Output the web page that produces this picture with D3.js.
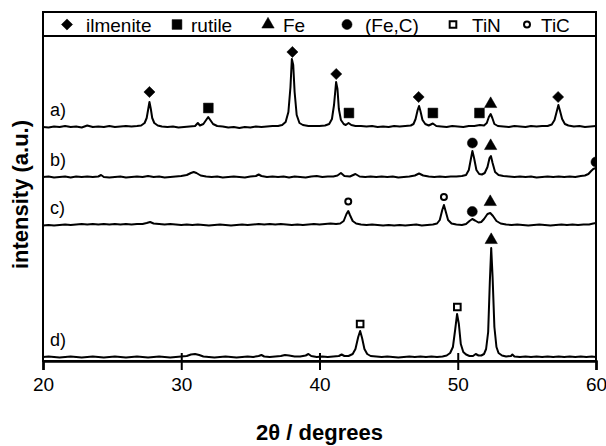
<!DOCTYPE html>
<html>
<head>
<meta charset="utf-8">
<script src="https://cdn.jsdelivr.net/npm/d3@7"></script>
<style>
  body { margin: 0; background: #fff; }
  svg { display: block; font-family: "Liberation Sans", Arial, sans-serif; }
</style>
</head>
<body>
<svg class="chart"></svg>
<script>
// XRD patterns a) - d), 2theta vs intensity (a.u.)
const width = 606
const height = 446
const margin = ({top: 12, right: 8, bottom: 85, left: 43})

// tick labels on the x axis
const xTicks = [20, 30, 40, 50, 60]

// phases in the legend
const phases = ['ilmenite', 'rutile', 'Fe', '(Fe,C)', 'TiN', 'TiC']

// vertical offset of each pattern (a.u.)
const traceNames = ['a)', 'b)', 'c)', 'd)']
const traceOffsets = [234, 184, 136, 4]

// patterns: [2theta, intensity above own baseline]
const traceA = [
  [20.0, 0], [20.4, -0.5], [20.8, 0.5], [21.2, 0], [21.6, 1], [22.0, 0], [22.4, 0.5], [22.8, -0.5],
  [23.2, 1.5], [23.6, 0], [24.0, 0.5], [24.4, 0], [24.8, 1], [25.2, 0], [25.6, 0.5], [26.0, 1],
  [26.4, 0.5], [26.8, 1], [27.1, 1.5], [27.35, 4], [27.5, 9], [27.6, 17], [27.7, 25], [27.8, 18],
  [27.9, 9], [28.05, 4], [28.3, 1.5], [28.6, 0.5], [29.0, 0], [29.4, 0.5], [29.8, -0.5], [30.2, 0],
  [30.6, 0.5], [31.0, 1], [31.2, 4], [31.35, 1.5], [31.6, 3], [31.8, 7], [31.95, 10], [32.1, 7],
  [32.3, 3], [32.6, 1], [33.0, 0.5], [33.4, -0.5], [33.8, 0], [34.2, -1], [34.6, 0], [35.0, -0.5],
  [35.4, 0.5], [35.8, 0], [36.2, 0.5], [36.6, 1], [37.0, 1], [37.3, 2], [37.55, 5], [37.75, 15],
  [37.9, 40], [38.0, 68], [38.1, 62], [38.2, 35], [38.35, 12], [38.55, 4], [38.8, 2], [39.2, 1],
  [39.6, 1], [40.0, 1], [40.4, 1.5], [40.7, 3], [40.9, 8], [41.05, 22], [41.2, 45], [41.3, 38],
  [41.4, 18], [41.55, 7], [41.75, 3], [41.9, 2], [42.1, 4], [42.3, 2], [42.6, 1], [43.0, 1],
  [43.4, 0.5], [43.8, 1], [44.2, 0], [44.6, 0.5], [45.0, 0], [45.4, 1], [45.8, 0.5], [46.2, 1],
  [46.6, 1.5], [46.8, 3], [46.95, 8], [47.1, 17], [47.2, 21], [47.3, 16], [47.45, 7], [47.65, 3],
  [47.9, 1.5], [48.2, 3.5], [48.45, 1], [48.8, 0.5], [49.2, 0], [49.6, 1], [50.0, 0.5], [50.4, 0],
  [50.8, 1], [51.2, 1], [51.6, 2], [51.9, 1.5], [52.1, 4], [52.25, 10], [52.38, 13], [52.5, 9],
  [52.65, 3], [52.9, 1], [53.3, 0.5], [53.7, 0], [54.1, 1], [54.5, 0.5], [54.9, 0], [55.3, 1],
  [55.7, 0.5], [56.1, 1], [56.5, 1], [56.8, 2.5], [57.0, 7], [57.15, 15], [57.28, 22], [57.4, 16],
  [57.55, 8], [57.75, 3], [58.0, 1.5], [58.4, 0.5], [58.8, 1], [59.2, 0], [59.6, 0.5], [60.0, 1]
]
const traceB = [
  [20.0, 0], [20.4, 0.5], [20.8, -0.5], [21.2, 0], [21.6, 0.5], [22.0, -0.5], [22.4, 0.5], [22.8, 0],
  [23.2, 0.5], [23.6, 0], [24.0, 0.5], [24.2, 2], [24.4, 0], [24.8, -0.5], [25.2, 0], [25.6, 0.5],
  [26.0, -0.5], [26.4, 0], [26.8, 0.5], [27.2, 0], [27.6, 1], [28.0, 0], [28.4, 0.5], [28.8, -0.5],
  [29.2, 0], [29.6, 0.5], [30.0, 1], [30.4, 2], [30.7, 4], [30.9, 5], [31.1, 4], [31.4, 1.5],
  [31.8, 0.5], [32.2, 0], [32.6, 0.5], [33.0, -0.5], [33.4, 0], [33.8, 0.5], [34.2, 0], [34.6, -0.5],
  [35.0, 0.5], [35.4, 1], [35.6, 2.5], [35.8, 1], [36.2, 0], [36.6, 0.5], [37.0, 0], [37.4, 0.5],
  [37.8, -0.5], [38.2, 0.5], [38.6, 0], [39.0, -0.5], [39.4, 0.5], [39.8, 1], [40.2, 0], [40.6, 0.5],
  [41.0, 0.5], [41.3, 1.5], [41.55, 4], [41.8, 1], [42.2, 0.5], [42.6, 3], [42.9, 0.5], [43.3, 0],
  [43.7, 0.5], [44.1, 0], [44.5, 0.5], [44.9, 0], [45.3, 0.5], [45.7, -0.5], [46.1, 0], [46.5, 0.5],
  [46.9, 1.5], [47.2, 3.5], [47.5, 1.5], [47.9, 0.5], [48.3, 0], [48.7, 0.5], [49.1, 0], [49.5, 0.5],
  [49.9, 0.5], [50.3, 1], [50.6, 2], [50.8, 7], [50.95, 18], [51.06, 26], [51.18, 19], [51.35, 7],
  [51.55, 3], [51.75, 2.5], [51.95, 4], [52.15, 10], [52.3, 19], [52.4, 21], [52.52, 14], [52.7, 5],
  [52.95, 2], [53.3, 1], [53.7, 0.5], [54.1, 0], [54.5, 0.5], [54.9, 0], [55.3, 0.5], [55.7, -0.5],
  [56.1, 0], [56.5, 0.5], [56.9, 0], [57.3, 0.5], [57.7, 0], [58.1, 0.5], [58.5, 0], [58.9, 1],
  [59.2, 1.5], [59.45, 3], [59.65, 6], [59.8, 8], [60.0, 9]
]
const traceC = [
  [20.0, -0.5], [20.4, 0], [20.8, -0.5], [21.2, 0], [21.6, 0.5], [22.0, 0], [22.4, 0.5], [22.8, 1],
  [23.2, 0.5], [23.6, 1], [24.0, 0.5], [24.4, 1], [24.8, 0.5], [25.2, 1], [25.6, 0.5], [26.0, 1],
  [26.4, 0.5], [26.8, 1], [27.2, 1], [27.5, 2], [27.75, 3], [28.0, 1.5], [28.4, 1], [28.8, 0.5],
  [29.2, 1], [29.6, 0.5], [30.0, 0], [30.4, 0.5], [30.8, 0], [31.2, 0.5], [31.6, 0], [32.0, -0.5],
  [32.4, 0], [32.8, 0.5], [33.2, 0], [33.6, -0.5], [34.0, 0], [34.4, 0.5], [34.8, 0], [35.2, 0.5],
  [35.6, 1], [36.0, 0.5], [36.4, 1], [36.8, 0.5], [37.2, 1], [37.6, 0.5], [38.0, 0], [38.4, 0.5],
  [38.8, 0], [39.2, 0.5], [39.6, 1], [40.0, 0.5], [40.4, 1], [40.8, 1.5], [41.2, 1], [41.5, 1.5],
  [41.75, 4], [41.95, 11], [42.08, 14], [42.2, 10], [42.4, 4], [42.65, 1.5], [43.0, 0.5], [43.4, 0],
  [43.8, 0.5], [44.2, 0], [44.6, -0.5], [45.0, 0], [45.4, -0.5], [45.8, 0], [46.2, -0.5], [46.6, 0],
  [47.0, 0.5], [47.4, -0.5], [47.8, 0], [48.2, 0.5], [48.5, 1.5], [48.7, 5], [48.88, 15], [49.0, 20],
  [49.12, 14], [49.3, 5], [49.55, 1.5], [49.9, 0.5], [50.3, 0], [50.6, 1], [50.85, 4], [51.05, 6],
  [51.25, 4.5], [51.5, 2.5], [51.7, 3], [51.9, 6], [52.15, 11], [52.35, 12], [52.55, 9], [52.8, 4],
  [53.1, 1.5], [53.5, 0.5], [53.9, 0], [54.3, 0.5], [54.7, 0], [55.1, -0.5], [55.5, 0], [55.9, 0.5],
  [56.3, 0], [56.7, -0.5], [57.1, 0], [57.5, 0.5], [57.9, 0], [58.3, 0.5], [58.7, 0], [59.1, 0.5],
  [59.5, 0.5], [59.8, 1.5], [60.0, 2]
]
const traceD = [
  [20.0, 0], [20.4, 0.5], [20.8, 0], [21.2, -0.5], [21.6, 0], [22.0, 0.5], [22.4, 0], [22.8, -0.5],
  [23.2, 0], [23.6, 0.5], [24.0, 0], [24.4, -0.5], [24.8, 0], [25.2, 0.5], [25.6, 0], [26.0, -0.5],
  [26.4, 0], [26.8, 0.5], [27.2, 0], [27.6, -0.5], [28.0, 0], [28.4, 0.5], [28.8, 0], [29.2, -0.5],
  [29.6, 0], [30.0, 0.5], [30.4, 1], [30.7, 2.5], [31.0, 3], [31.3, 2], [31.6, 0.5], [32.0, 0],
  [32.4, -0.5], [32.8, 0], [33.2, 0.5], [33.6, 0], [34.0, -0.5], [34.4, 0], [34.8, 0.5], [35.2, 0],
  [35.6, 1], [35.8, 2], [36.0, 0.5], [36.4, 0], [36.8, 0.5], [37.2, 1], [37.5, 2], [37.8, 1.5],
  [38.2, 0.5], [38.6, 0.5], [39.0, 1.5], [39.2, 3], [39.4, 1], [39.8, 0], [40.2, 0.5], [40.6, 0],
  [41.0, 0.5], [41.4, 1], [41.6, 2.5], [41.8, 1], [42.1, 1], [42.4, 3], [42.6, 8], [42.8, 20],
  [42.94, 26], [43.08, 19], [43.25, 8], [43.45, 3], [43.7, 1], [44.1, 0.5], [44.5, 0], [44.9, 0.5],
  [45.3, 0], [45.7, -0.5], [46.1, 0], [46.5, 0.5], [46.9, 0], [47.3, 0.5], [47.7, 0], [48.1, 0.5],
  [48.5, 0], [48.9, 0.5], [49.2, 1.5], [49.45, 4], [49.65, 10], [49.82, 28], [49.95, 43], [50.08, 33],
  [50.22, 13], [50.4, 5], [50.6, 2.5], [50.85, 1], [51.1, 1], [51.3, 3], [51.5, 1.5], [51.7, 1.5],
  [51.9, 3], [52.05, 8], [52.2, 25], [52.32, 75], [52.42, 109], [52.52, 80], [52.65, 30], [52.8, 10],
  [52.95, 4], [53.2, 1.5], [53.5, 0.5], [53.85, 1], [53.95, 2.5], [54.1, 0.5], [54.5, 0], [54.9, 0.5],
  [55.3, 0], [55.7, 0.5], [56.1, 0], [56.5, 0.5], [56.9, 0], [57.3, 0.5], [57.7, 0], [58.1, 0.5],
  [58.5, 0], [58.9, 0.5], [59.3, 0], [59.7, 0.5], [60.0, 0]
]
const traces = [traceA, traceB, traceC, traceD]

// peak markers: phase, 2theta, absolute intensity (a.u.)
const markerPhase = ['ilmenite', 'rutile', 'ilmenite', 'ilmenite', 'rutile', 'ilmenite', 'rutile', 'rutile', 'Fe', 'ilmenite',
  '(Fe,C)', 'Fe', '(Fe,C)',
  'TiC', 'TiC', '(Fe,C)', 'Fe',
  'TiN', 'TiN', 'Fe']
const markerTheta = [27.7, 31.96, 38.04, 41.21, 42.13, 47.17, 48.2, 51.57, 52.38, 57.26,
  51.06, 52.38, 60.0,
  42.08, 49.0, 51.05, 52.35,
  42.94, 49.97, 52.42]
const markerValue = [269, 253, 309, 287, 248, 264, 248, 248, 257, 264,
  218, 215, 199,
  159.5, 164, 149.5, 159,
  37, 54, 121]

//--------------------SET UP----------------------//
const svg = d3.select('svg.chart')
  .attr('width', width)
  .attr('height', height)

const x = d3.scaleLinear()
  .domain([20, 60])
  .range([margin.left, width - margin.right - 2])

const y = d3.scaleLinear()
  .domain([0, 349])
  .range([height - margin.bottom, margin.top])

const plotRight = x(60)
const plotBottom = y(0)

svg.append('clipPath').attr('id', 'plotclip')
  .append('rect')
  .attr('x', margin.left).attr('y', margin.top)
  .attr('width', plotRight - margin.left).attr('height', plotBottom - margin.top)

// marker shapes
const shapes = {
  'ilmenite': {type: d3.symbolSquare, size: 62, rotate: 45, fill: '#000'},
  'rutile': {type: d3.symbolSquare, size: 96, rotate: 0, fill: '#000'},
  'Fe': {type: d3.symbolTriangle, size: 66, rotate: 0, fill: '#000'},
  '(Fe,C)': {type: d3.symbolCircle, size: 80, rotate: 0, fill: '#000'},
  'TiN': {type: d3.symbolSquare, size: 44, rotate: 0, fill: '#fff'},
  'TiC': {type: d3.symbolCircle, size: 28, rotate: 0, fill: '#fff'}
}

function drawSymbol(g, phase, cx, cy) {
  const s = shapes[phase]
  g.append('path')
    .attr('d', d3.symbol().type(s.type).size(s.size)())
    .attr('transform', `translate(${cx},${cy}) rotate(${s.rotate})`)
    .attr('fill', s.fill)
    .attr('stroke', '#000')
    .attr('stroke-width', s.fill === '#fff' ? 2 : 0.5)
}

//--------------------PATTERNS----------------------//
const line = d3.line()
  .x(d => x(d[0]))
  .y(d => y(d[1]))

const plot = svg.append('g').attr('clip-path', 'url(#plotclip)')

traces.forEach((t, i) => {
  plot.append('path')
    .datum(t.map(d => [d[0], d[1] + traceOffsets[i]]))
    .attr('d', line)
    .attr('fill', 'none')
    .attr('stroke', '#000')
    .attr('stroke-width', 2)
    .attr('stroke-linejoin', 'round')

  svg.append('text')
    .attr('x', x(20) + 7)
    .attr('y', y(traceOffsets[i] + 11))
    .attr('font-size', 18)
    .text(traceNames[i])
})

markerPhase.forEach((p, i) => {
  drawSymbol(plot, p, x(markerTheta[i]), y(markerValue[i]))
})

//--------------------FRAME + AXIS----------------------//
svg.append('rect')
  .attr('x', margin.left).attr('y', margin.top)
  .attr('width', plotRight - margin.left).attr('height', plotBottom - margin.top)
  .attr('fill', 'none').attr('stroke', '#000').attr('stroke-width', 2)

const xAxis = d3.axisBottom(x)
  .tickValues(xTicks)
  .tickSize(9)
  .tickPadding(8)
  .tickFormat(d3.format('d'))

const xAxisGroup = svg.append('g')
  .attr('transform', `translate(0, ${plotBottom})`)
  .call(xAxis)

xAxisGroup.select('.domain').attr('stroke-width', 2.5)
xAxisGroup.selectAll('.tick line')
  .attr('stroke-width', 2)
  .attr('y1', d => (d === 20 || d === 60) ? 0 : -8)
xAxisGroup.selectAll('.tick text')
  .attr('font-size', 19)
  .attr('font-family', '"Liberation Sans", Arial, sans-serif')
  .attr('fill', '#000')

svg.append('text')
  .attr('x', (margin.left + plotRight) / 2)
  .attr('y', 440)
  .attr('text-anchor', 'middle')
  .attr('font-size', 22)
  .attr('font-weight', 'bold')
  .text('2θ / degrees')

svg.append('text')
  .attr('transform', `translate(28, ${(margin.top + plotBottom) / 2 + 8}) rotate(-90)`)
  .attr('text-anchor', 'middle')
  .attr('font-size', 22)
  .attr('font-weight', 'bold')
  .text('intensity (a.u.)')

//--------------------LEGEND----------------------//
const legendBottom = margin.top + 24
svg.append('line')
  .attr('x1', margin.left).attr('x2', plotRight)
  .attr('y1', legendBottom).attr('y2', legendBottom)
  .attr('stroke', '#000').attr('stroke-width', 2)

const legendSymbolX = [67, 177, 268, 347, 453, 527]
const legendTextX = [86, 191, 283, 365, 472, 541]
const legend = svg.append('g')
phases.forEach((p, i) => {
  drawSymbol(legend, p, legendSymbolX[i], margin.top + 12.5)
  legend.append('text')
    .attr('x', legendTextX[i])
    .attr('y', margin.top + 19.5)
    .attr('font-size', 19)
    .text(p)
})
</script>
</body>
</html>
